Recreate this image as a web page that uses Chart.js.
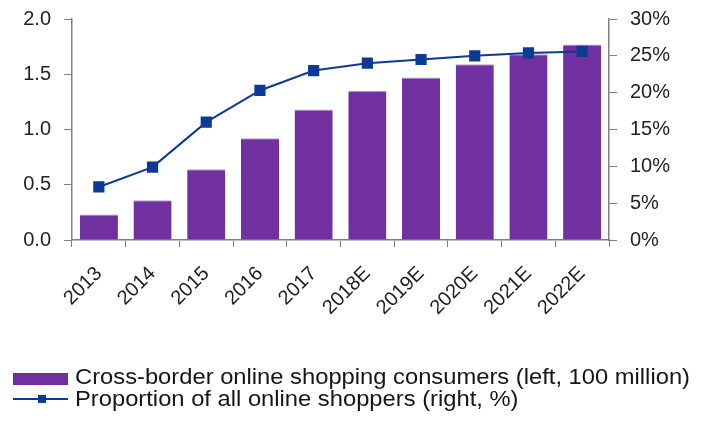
<!DOCTYPE html>
<html>
<head>
<meta charset="utf-8">
<script src="https://cdn.jsdelivr.net/npm/chart.js@4"></script>
<style>
  html, body { margin: 0; padding: 0; background: #fff; }
  #wrap { position: relative; width: 701px; height: 422px; }
  #legend { position: absolute; left: 13px; top: 366px; font-family: 'Liberation Sans', Arial, sans-serif; font-size: 22px; color: #151515; }
  .row { display: flex; align-items: center; height: 22px; white-space: nowrap; }
  .key { width: 55px; height: 22px; position: relative; margin-right: 7px; flex: none; }
  .key .box { position: absolute; left: 0; top: 7px; width: 55px; height: 12px; background: #7030a0; }
  .key .ln { position: absolute; left: 0; top: 10px; width: 55px; height: 2px; background: #0d3a94; }
  .key .mk { position: absolute; left: 25px; top: 7px; width: 8px; height: 8px; background: #0d3a94; }
  .txt { display: inline-block; transform-origin: left center; }
</style>
</head>
<body>
<div id="wrap">
  <canvas id="chart" width="701" height="422"></canvas>
  <div id="legend">
    <div class="row"><div class="key"><div class="box"></div></div><span class="txt" id="t1">Cross-border online shopping consumers (left, 100 million)</span></div>
    <div class="row"><div class="key"><div class="ln"></div><div class="mk"></div></div><span class="txt" id="t2">Proportion of all online shoppers (right, %)</span></div>
  </div>
</div>
<script>
// ── DATA ─────────────────────────────────────────────
const years = ['2013', '2014', '2015', '2016', '2017', '2018E', '2019E', '2020E', '2021E', '2022E'];

// cross-border online shoppers, 100 million (left axis)
const consumers = [0.23, 0.36, 0.64, 0.92, 1.18, 1.35, 1.47, 1.59, 1.68, 1.77];

// share of all online shoppers, % (right axis)
const share = [7.2, 9.9, 16.0, 20.3, 23.0, 24.0, 24.5, 25.0, 25.4, 25.6];

const leftTicks = [0, 0.5, 1.0, 1.5, 2.0];
const rightTicks = [0, 5, 10, 15, 20, 25, 30];

// ── CHART ────────────────────────────────────────────
const tickFont = { family: "'Liberation Sans', Arial, sans-serif", size: 20 };
const axisGrey = '#808080';

// fixed axis sizes so the plot area lands where the reference has it
function fitY(width) {
  return s => { s.width = width; s.paddingTop = 0; s.paddingBottom = 0; };
}

const ctx = document.getElementById('chart').getContext('2d');

new Chart(ctx, {
  type: 'bar',
  data: {
    labels: years,
    datasets: [
      {
        type: 'line',
        label: 'Proportion of all online shoppers (right, %)',
        data: share,
        yAxisID: 'yR',
        borderColor: '#0d3a94',
        backgroundColor: '#0d3a94',
        borderWidth: 2,
        pointStyle: 'rect',
        pointRadius: 6.5,
        tension: 0,
        order: 0
      },
      {
        label: 'Cross-border online shopping consumers (left, 100 million)',
        data: consumers,
        yAxisID: 'yL',
        backgroundColor: '#7030a0',
        borderColor: '#b9a0d2',
        borderWidth: { top: 1, left: 0, right: 0, bottom: 0 },
        borderSkipped: false,
        categoryPercentage: 0.71,
        barPercentage: 1,
        order: 1
      }
    ]
  },
  options: {
    responsive: false,
    animation: false,
    layout: { padding: { top: 19, left: 0, right: 0, bottom: 0 } },
    plugins: { legend: { display: false }, tooltip: { enabled: false } },
    scales: {
      x: {
        offset: true,
        grid: { offset: true, drawOnChartArea: false, drawTicks: true, tickLength: 7, color: axisGrey },
        border: { color: axisGrey, width: 1.5 },
        ticks: { font: tickFont, color: '#222', maxRotation: 45, minRotation: 45, padding: 15 },
        afterFit: s => { s.height = 182; s.paddingLeft = 0; s.paddingRight = 0; }
      },
      yL: {
        position: 'left',
        min: 0, max: 2,
        afterBuildTicks: s => { s.ticks = leftTicks.map(v => ({ value: v })); },
        grid: { drawOnChartArea: false, tickLength: 8, color: axisGrey },
        border: { color: axisGrey, width: 1.5 },
        ticks: { font: tickFont, color: '#222', padding: 13, callback: v => v.toFixed(1) },
        afterFit: fitY(72)
      },
      yR: {
        position: 'right',
        min: 0, max: 30,
        afterBuildTicks: s => { s.ticks = rightTicks.map(v => ({ value: v })); },
        grid: { drawOnChartArea: false, tickLength: 8, color: axisGrey },
        border: { color: axisGrey, width: 1.5 },
        ticks: { font: tickFont, color: '#222', padding: 13, callback: v => v + '%' },
        afterFit: fitY(92)
      }
    }
  }
});

// squeeze legend text horizontally (reference uses a condensed face)
const t1 = document.getElementById('t1');
const t2 = document.getElementById('t2');
const squeeze = 615 / t1.getBoundingClientRect().width;
t1.style.transform = 'scaleX(' + squeeze + ')';
t2.style.transform = 'scaleX(' + squeeze + ')';
</script>
</body>
</html>
